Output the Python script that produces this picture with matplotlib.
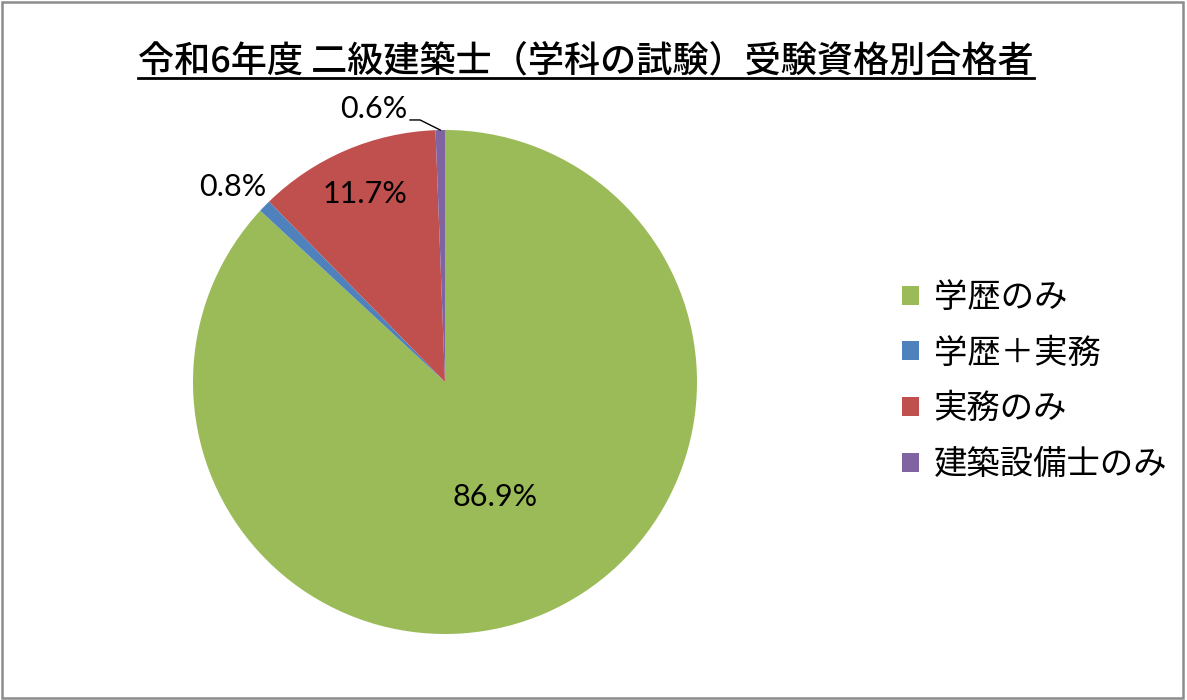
import numpy as np
import matplotlib
matplotlib.use("Agg")
import matplotlib.pyplot as plt
from matplotlib.patches import Rectangle

# data
categories = ["学歴のみ", "学歴＋実務", "実務のみ", "建築設備士のみ"]
shares = [86.9, 0.8, 11.7, 0.6]
colors = ["#9BBB59", "#4F81BD", "#C0504D", "#8064A2"]
title = "令和6年度 二級建築士（学科の試験）受験資格別合格者"

plt.rcParams["font.family"] = ["Lato", "Noto Sans CJK JP", "DejaVu Sans"]

W, H = 1187, 700
fig = plt.figure(figsize=(W / 100, H / 100), dpi=100)

# outer frame
fig.patches.append(Rectangle((0.002, 0.003), 0.995, 0.994, transform=fig.transFigure,
                             fill=False, edgecolor="#8c8c8c", linewidth=1.8))

cx, cy, r = 445, 382, 252
ax = fig.add_axes([(cx - r) / W, (H - cy - r) / H, 2 * r / W, 2 * r / H])

wedges, _ = ax.pie(shares, colors=colors, startangle=90, counterclock=False,
                   radius=1, wedgeprops=dict(linewidth=0))
ax.set_xlim(-1, 1)
ax.set_ylim(-1, 1)
ax.set_aspect("equal")
ax.axis("off")

# percentage labels
total = sum(shares)
cum = np.cumsum([0] + shares[:-1])
mids = 90 - (cum + np.array(shares) / 2) / total * 360
label_r = [0.5, 1.15, 0.81, None]
for i, (s, a) in enumerate(zip(shares, mids)):
    t = np.deg2rad(a)
    if label_r[i] is not None:
        ax.text(label_r[i] * np.cos(t) - (0.02 if i == 1 else 0),
                label_r[i] * np.sin(t) - (0.03 if i == 1 else 0), f"{s:.1f}%",
                ha="center", va="center", fontsize=22, color="black",
                clip_on=False)
    else:
        # small slice: leader line to the upper left
        x0, y0 = np.cos(t), np.sin(t)
        ax.plot([x0, x0 - 0.08, x0 - 0.12], [y0, y0 + 0.04, y0 + 0.04],
                color="black", lw=1, clip_on=False)
        ax.text(x0 - 0.13, y0 + 0.085, f"{s:.1f}%", ha="right", va="center",
                fontsize=22, color="black", clip_on=False)

# legend
leg = fig.legend(wedges, categories, loc="center left",
                 bbox_to_anchor=(872 / W, 1 - 381 / H), frameon=False,
                 handlelength=0.5, handleheight=0.5,
                 handletextpad=0.45, labelspacing=0.62,
                 prop=dict(family=["Noto Sans CJK JP"], size=24))

# title with underline
tt = fig.text(586 / W, 1 - 61 / H, title, ha="center", va="center",
              fontsize=26, family=["Noto Sans CJK JP"], fontweight="medium")
fig.canvas.draw()
bb = tt.get_window_extent()
fig.add_artist(plt.Line2D([bb.x0 / W, bb.x1 / W], [(H - 78) / H] * 2,
                          transform=fig.transFigure, color="black", lw=2))

fig.savefig("out.png", dpi=100)
